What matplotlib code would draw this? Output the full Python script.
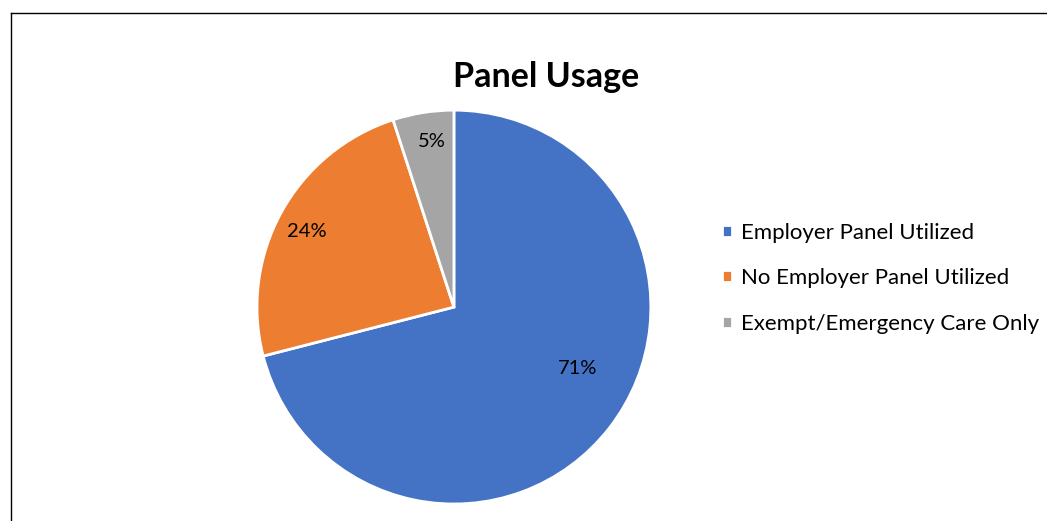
import numpy as np
import matplotlib.pyplot as plt
from matplotlib.lines import Line2D

plt.rcParams['font.family'] = ['Lato', 'DejaVu Sans']

# Data
labels = ["Employer Panel Utilized", "No Employer Panel Utilized", "Exempt/Emergency Care Only"]
shares = [71, 24, 5]
colors = ["#4472C4", "#ED7D31", "#A5A5A5"]

# where Excel put the % labels: distance from centre and angle shift from wedge middle
label_dist = [0.70, 0.84, 0.85]
label_shift = [11.4, 1.7, -1.4]

fig = plt.figure(figsize=(10.47, 5.21), dpi=100)

# pie axes: center ~ (454, 307) px, radius ~197 px
ax = fig.add_axes([0.2454, 0.0326, 0.3763, 0.756])
wedges, texts, autotexts = ax.pie(
    shares, colors=colors, startangle=90, counterclock=False,
    autopct="%1.0f%%", pctdistance=0.8,
    wedgeprops=dict(edgecolor="white", linewidth=2),
    textprops=dict(fontsize=14.5, color="#000000"))
ax.set_xlim(-1, 1)
ax.set_ylim(-1, 1)

for w, t, d, s in zip(wedges, autotexts, label_dist, label_shift):
    ang = np.deg2rad((w.theta1 + w.theta2) / 2 + s)
    t.set_position((d * np.cos(ang), d * np.sin(ang)))

fig.text(0.522, 0.852, "Panel Usage", ha="center", va="center",
         fontsize=24.5, fontweight="bold")

fig.legend(wedges, labels, loc="center left", bbox_to_anchor=(0.6896, 0.466),
           frameon=False, fontsize=16, handlelength=0.45, handleheight=0.45,
           handletextpad=0.4, labelspacing=1.15, borderpad=0, borderaxespad=0)

# chart border (cropped)
fig.add_artist(Line2D([10.5 / 1047, 1], [1 - 12.5 / 521] * 2, color="black", lw=1.0,
                      transform=fig.transFigure))
fig.add_artist(Line2D([11 / 1047] * 2, [0, 1 - 12.5 / 521], color="black", lw=1.0,
                      transform=fig.transFigure))

fig.savefig("out.png", dpi=100)
